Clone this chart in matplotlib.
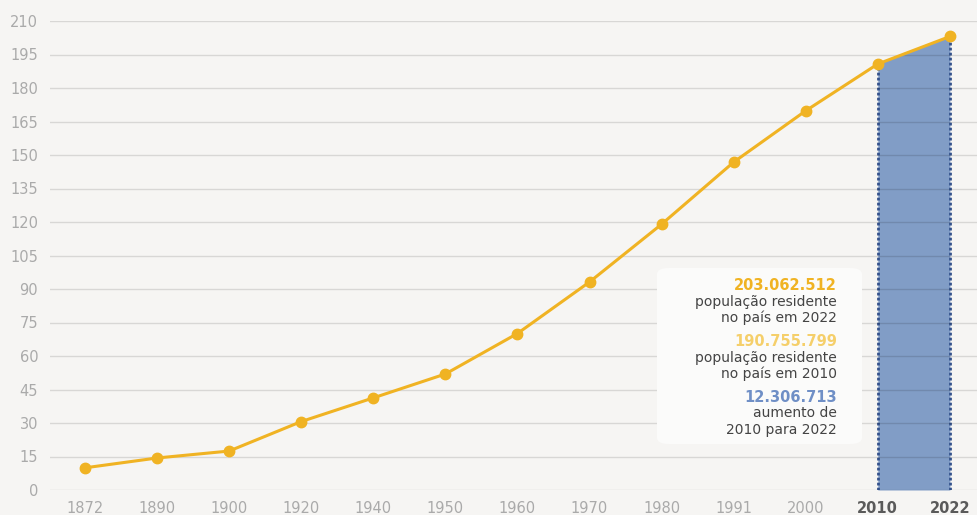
import matplotlib.pyplot as plt
from matplotlib.patches import FancyBboxPatch

anos = ["1872", "1890", "1900", "1920", "1940", "1950", "1960",
        "1970", "1980", "1991", "2000", "2010", "2022"]
populacao = [9.93, 14.33, 17.44, 30.64, 41.24, 51.94, 70.07,
             93.14, 119.0, 146.8, 169.8, 190.76, 203.06]
yticks = list(range(0, 211, 15))

bg = "#f6f5f3"
amarelo = "#f0b323"
azul = "#819dc6"

plt.rcParams['font.family'] = ['DejaVu Sans']

W, H = 978, 515
fig = plt.figure(figsize=(W / 100, H / 100), dpi=100, facecolor=bg)
ax = fig.add_axes([50 / W, 25 / H, 928 / W, 469 / H], facecolor=bg)

x = list(range(len(anos)))
ax.set_xlim(-0.485, 12.39)
ax.set_ylim(0, 210)

# área 2010-2022
ax.fill_between(x[-2:], 0, populacao[-2:], color=azul, zorder=1, lw=0)
for i in x[-2:]:
    ax.plot([i, i], [0, populacao[i]], color="#34528c", lw=2, ls=(0, (1, 0.8)), zorder=2)

ax.plot(x, populacao, color=amarelo, lw=2.2, marker="o", ms=7.5, zorder=4, clip_on=False)

ax.set_yticks(yticks)
ax.set_xticks(x)
ax.set_xticklabels(anos)
ax.grid(axis="y", color="black", alpha=0.12, lw=1, zorder=2.5)
ax.set_axisbelow(False)
for s in ax.spines.values():
    s.set_visible(False)
ax.tick_params(length=0, labelsize=10.5, labelcolor="#aaaaaa")
ax.tick_params(axis="y", pad=8.5)
ax.tick_params(axis="x", pad=8)
for lab in ax.get_xticklabels()[-2:]:
    lab.set_fontweight("bold")
    lab.set_color("#5a5a5a")

# caixa de legenda
def px(xp, yp):
    return xp / W, 1 - yp / H

x0, y0 = px(657, 444)
x1, y1 = px(862, 268)
box = FancyBboxPatch((x0, y0), x1 - x0, y1 - y0, boxstyle="round,pad=0,rounding_size=0.012",
                     transform=fig.transFigure, facecolor="#fbfbfa", edgecolor="none",
                     zorder=5)
fig.patches.append(box)

xr = 837 / W
linhas = [
    ("203.062.512", 285, amarelo, "bold", 10.5),
    ("população residente", 302, "#444444", "normal", 10),
    ("no país em 2022", 318, "#444444", "normal", 10),
    ("190.755.799", 341, "#f5cf6a", "bold", 10.5),
    ("população residente", 358, "#444444", "normal", 10),
    ("no país em 2010", 374, "#444444", "normal", 10),
    ("12.306.713", 397, "#6f8fc6", "bold", 10.5),
    ("aumento de", 413, "#444444", "normal", 10),
    ("2010 para 2022", 430, "#444444", "normal", 10),
]
for txt, yp, cor, peso, tam in linhas:
    fig.text(xr, 1 - yp / H, txt, ha="right", va="center", color=cor,
             fontweight=peso, fontsize=tam, zorder=6)

plt.savefig("out.png", dpi=100, facecolor=bg)
